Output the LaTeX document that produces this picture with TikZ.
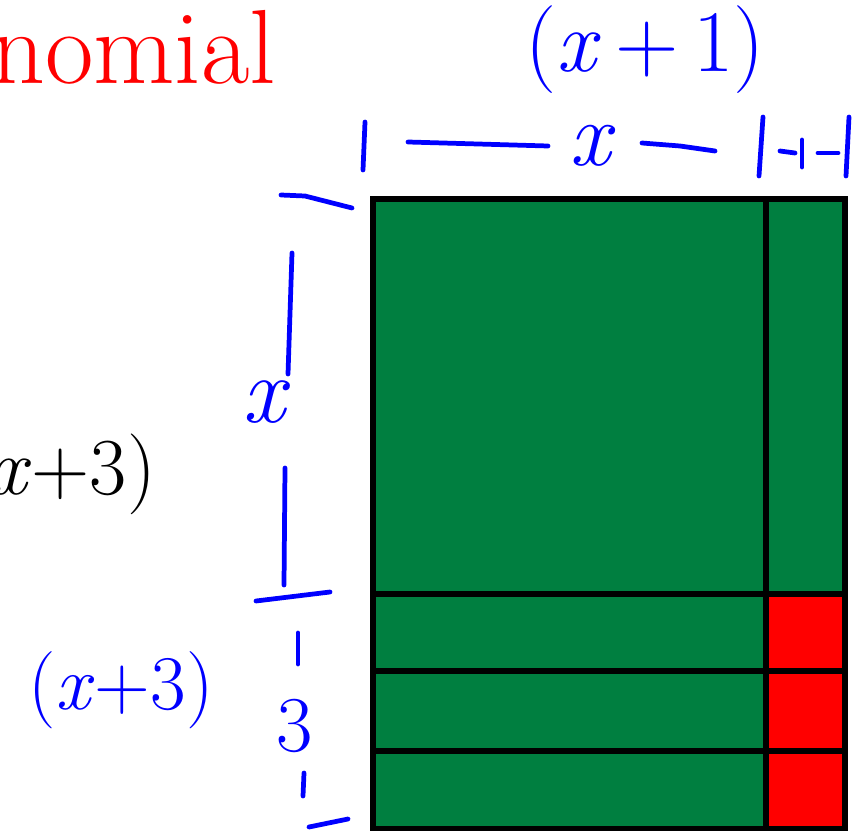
\documentclass[tikz,border=0pt]{standalone}
\usepackage{amsmath}
\usetikzlibrary{calc}

\definecolor{tilegreen}{RGB}{0,127,64}
\newcommand{\vx}{\textit{x}}

\begin{document}
\begin{tikzpicture}[x=0.02cm, y=-0.02cm,
    pen/.style={blue, line width=2.7pt, line cap=round, line join=round},
    gridline/.style={black, line width=3.4pt},
    hand/.style={inner sep=0pt, font=\fontsize{#1}{#1}\selectfont},
    hand/.default=50]
            \useasboundingbox (0,0) rectangle (855,831);

            % Draw tiles
            \fill[tilegreen] (373,199) rectangle (845,829);
            \fill[red] (766,594) rectangle (845,829);

            % Draw grid
            \draw[gridline] (373,199) rectangle (845,829);
            \draw[gridline] (766,199) -- (766,829);
            \foreach \y in {594,671,751}
                \draw[gridline] (373,\y) -- (845,\y);

            % Draw title
            \node[hand=60, red, anchor=base west] (title) at (-9,84) {nomial};

            % Draw top labels
            \node[hand=50, blue] (topsum) at (645,50) {(\vx\,+\,1)};
            \node[hand=52, blue] (topx) at (593,146) {\vx};
            \draw[pen] (365,122) -- (363,170);
            \draw[pen] (408,142) -- (548,146);
            \draw[pen] (642,143) -- (680,146) -- (715,151);
            \draw[pen] (763,117) -- (759,176);
            \draw[pen] (780,151) -- (795,153);
            \draw[pen] (802,140) -- (802,167);
            \draw[pen] (818,153) -- (838,153);
            \draw[pen] (849,117) -- (846,176);

            % Draw left labels
            \node[hand=54, blue] (leftx) at (266,402) {\vx};
            \draw[pen] (281,195) -- (305,196) -- (352,208);
            \draw[pen] (292,253) -- (288,374);
            \draw[pen] (285,468) -- (284,585);
            \draw[pen] (256,601) -- (330,592);
            \node[hand=45, blue] (threelbl) at (295,726) {3};
            \draw[pen] (298,633) -- (298,664);
            \draw[pen] (304,773) -- (303,796);
            \draw[pen] (309,827) -- (348,819);

            % Draw factors
            \node[hand=46, anchor=east] (blackfac) at (156,474) {\vx+3)};
            \node[hand=44, blue] (bluefac) at (121,690) {(\vx+3)};
        \end{tikzpicture}
\end{document}
